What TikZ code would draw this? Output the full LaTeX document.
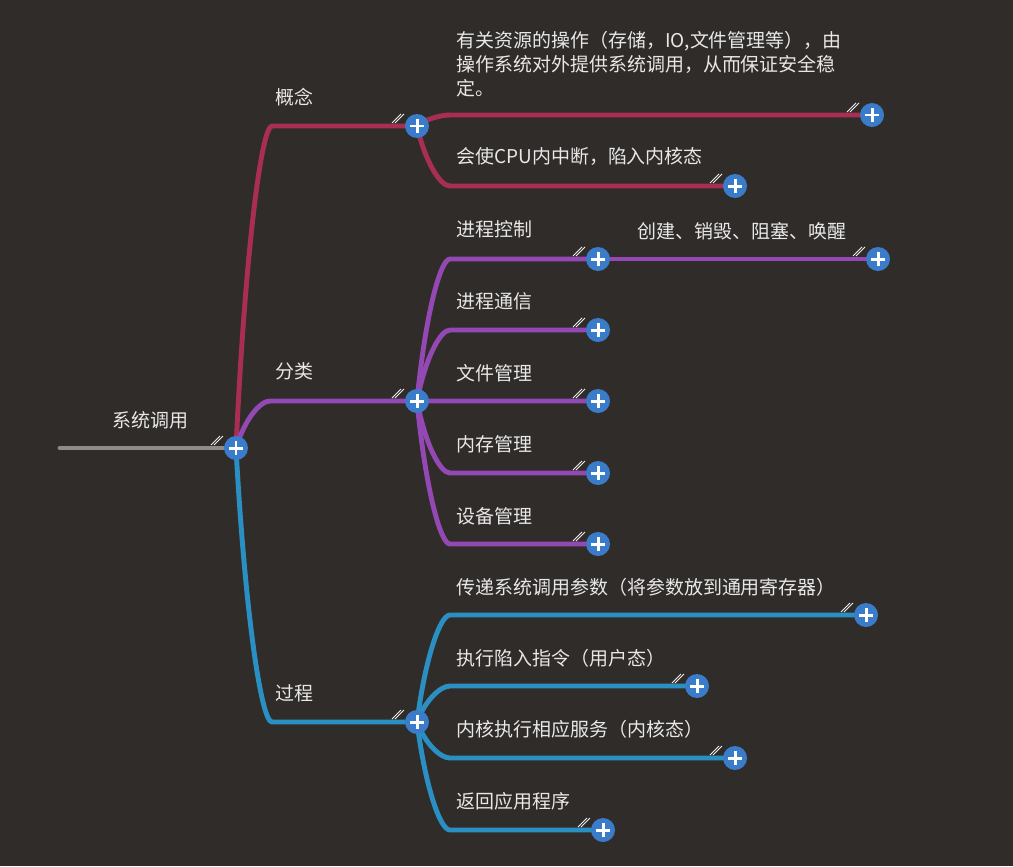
\documentclass[tikz,border=0pt]{standalone}
\usepackage{fontspec}
\setmainfont{Noto Sans CJK SC}
\usetikzlibrary{calc}
\definecolor{bgDark}{RGB}{48,44,41}
\definecolor{myGray}{RGB}{140,140,140}
\definecolor{myRed}{RGB}{168,46,86}
\definecolor{myPurple}{RGB}{148,72,180}
\definecolor{myBlue}{RGB}{42,144,196}
\definecolor{plusBlue}{RGB}{58,124,202}
\definecolor{txt}{RGB}{232,232,232}
\pgfdeclarelayer{back}
\pgfdeclarelayer{wires}
\pgfsetlayers{back,wires,main}
\newcommand\foldmark[1]{%
  \draw[fold] ([shift={(-25,-3)}]#1.center) -- ++(9,-9);
  \draw[fold] ([shift={(-22,-3)}]#1.center) -- ++(9,-9);}

\begin{document}
\begin{tikzpicture}[x=0.02cm,y=-0.02cm]
\tikzstyle{plus}=[circle, fill=plusBlue, minimum size=0.48cm, inner sep=0pt,
  path picture={\draw[white, line width=1.7pt]
    ($(path picture bounding box.center)+(-7,0)$) -- ($(path picture bounding box.center)+(7,0)$)
    ($(path picture bounding box.center)+(0,-7)$) -- ($(path picture bounding box.center)+(0,7)$);}]
\tikzstyle{wire}=[line width=2.8pt, line cap=round]
\tikzstyle{link}=[wire, to path={.. controls ($(\tikztostart)!0.6!(\tikztostart |- \tikztotarget)+({#1/4},0)$)
  and ($(\tikztostart |- \tikztotarget)+({#1*0.7},0)$) .. ($(\tikztostart |- \tikztotarget)+(#1,0)$) -- (\tikztotarget)}]
\tikzstyle{fold}=[draw=txt!80, line width=0.5pt]
\tikzstyle{lbl}=[anchor=west, inner sep=0pt, text=txt, font=\fontsize{10.8pt}{13.6pt}\selectfont, align=left]
% background and frame
\begin{pgfonlayer}{back}
\fill[bgDark] (0,0) rectangle (1013,866);
\end{pgfonlayer}
\useasboundingbox (0,0) rectangle (1013,866);
% plus buttons
\coordinate (rootstart) at (60,448);
\node[plus] (root) at (236,448) {};
\node[plus] (gn) at (417,126) {};
\node[plus] (fl) at (417,401) {};
\node[plus] (gc) at (417,722) {};
\node[plus] (gn1) at (872,115) {};
\node[plus] (gn2) at (735,186) {};
\node[plus] (fl1) at (598,259) {};
\node[plus] (fl1a) at (878,259) {};
\node[plus] (fl2) at (598,330) {};
\node[plus] (fl3) at (598,401) {};
\node[plus] (fl4) at (598,473) {};
\node[plus] (fl5) at (598,544) {};
\node[plus] (gc1) at (866,615) {};
\node[plus] (gc2) at (697,686) {};
\node[plus] (gc3) at (735,758) {};
\node[plus] (gc4) at (603,830) {};
% branches
\begin{pgfonlayer}{wires}
\draw[wire, myGray] (rootstart) -- (root.center);
\draw[link=36, myRed] (root.center) to (gn.center);
\draw[link=33, myRed] (gn.center) to (gn1.center);
\draw[link=33, myRed] (gn.center) to (gn2.center);
\draw[link=34, myPurple] (root.center) to (fl.center);
\draw[link=33, myPurple] (fl.center) to (fl1.center);
\draw[wire, myPurple] (fl1.center) -- (fl1a.center);
\draw[link=33, myPurple] (fl.center) to (fl2.center);
\draw[link=33, myPurple] (fl.center) to (fl3.center);
\draw[link=33, myPurple] (fl.center) to (fl4.center);
\draw[link=33, myPurple] (fl.center) to (fl5.center);
\draw[link=36, myBlue] (root.center) to (gc.center);
\draw[link=33, myBlue] (gc.center) to (gc1.center);
\draw[link=33, myBlue] (gc.center) to (gc2.center);
\draw[link=33, myBlue] (gc.center) to (gc3.center);
\draw[link=33, myBlue] (gc.center) to (gc4.center);
\end{pgfonlayer}
% fold marks
\foreach \n in {root,gn,fl,gc,gn1,gn2,fl1,fl1a,fl2,fl3,fl4,fl5,gc1,gc2,gc3,gc4}
  {\foldmark{\n}}
% labels
\node[lbl] (tRoot) at (112,420) {系统调用};
\node[lbl] (tGn) at (275,97) {概念};
\node[lbl] (tFl) at (275,371) {分类};
\node[lbl] (tGc) at (275,693) {过程};
\node[lbl] (tGn1) at (456,64) {有关资源的操作（存储，IO,文件管理等），由\\操作系统对外提供系统调用，从而保证安全稳\\定。};
\node[lbl] (tGn2) at (456,157) {会使CPU内中断，陷入内核态};
\node[lbl] (tFl1) at (456,229) {进程控制};
\node[lbl] (tFl1a) at (637,231) {创建、销毁、阻塞、唤醒};
\node[lbl] (tFl2) at (456,301) {进程通信};
\node[lbl] (tFl3) at (456,373) {文件管理};
\node[lbl] (tFl4) at (456,444) {内存管理};
\node[lbl] (tFl5) at (456,516) {设备管理};
\node[lbl] (tGc1) at (456,587) {传递系统调用参数（将参数放到通用寄存器）};
\node[lbl] (tGc2) at (456,658) {执行陷入指令（用户态）};
\node[lbl] (tGc3) at (456,729) {内核执行相应服务（内核态）};
\node[lbl] (tGc4) at (456,801) {返回应用程序};
\end{tikzpicture}
\end{document}
